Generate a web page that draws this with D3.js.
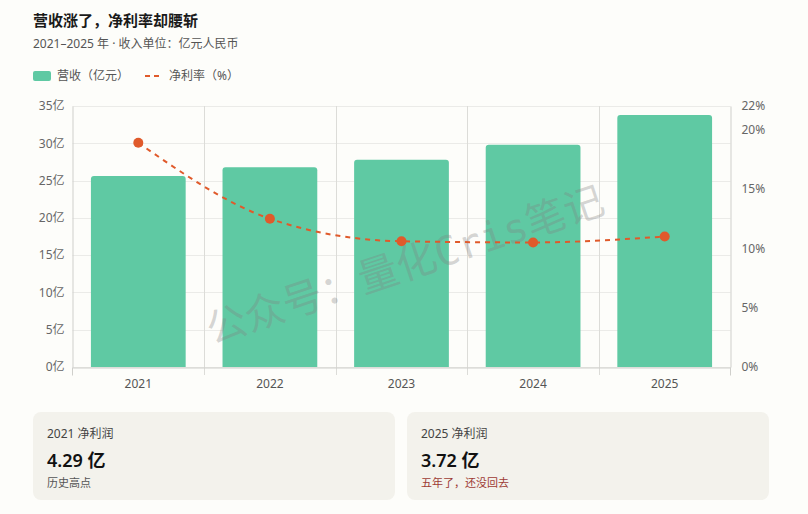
<!DOCTYPE html>
<html>
<head>
<meta charset="utf-8">
<script src="https://cdn.jsdelivr.net/npm/d3@7"></script>
<style>
  body { margin: 0; background: #fdfdfa; font-family: "Noto Sans", "Noto Sans CJK SC", sans-serif; }
  svg { display: block; }
</style>
</head>
<body>
<script>
"use strict";

var years = ["2021", "2022", "2023", "2024", "2025"];
var revenue = [25.6, 26.8, 27.8, 29.8, 33.8];       // 亿元
var netMargin = [18.9, 12.5, 10.6, 10.5, 11.0];     // %
var leftTicks = [0, 5, 10, 15, 20, 25, 30, 35];
var rightTicks = [0, 5, 10, 15, 20, 22];
var cardTitles = ["2021 净利润", "2025 净利润"];
var cardValues = ["4.29 亿", "3.72 亿"];
var cardNotes = ["历史高点", "五年了，还没回去"];

var W = 808, H = 514;
var green = "#5fc9a3", red = "#e05a2b";
var font = "Noto Sans, Noto Sans CJK SC, sans-serif";

var svg = d3.select("body").append("svg")
	.attr("width", W)
	.attr("height", H);

svg.append("rect").attr("width", W).attr("height", H).attr("fill", "#fdfdfa");

// title
svg.append("text")
	.attr("x", 33).attr("y", 26)
	.attr("font-size", 15).attr("font-weight", "bold").attr("fill", "#1a1a1a")
	.text("营收涨了，净利率却腰斩");

svg.append("text")
	.attr("x", 33).attr("y", 48)
	.attr("font-size", 12).attr("fill", "#555")
	.text("2021–2025 年 · 收入单位：亿元人民币");

// legend
var legend = svg.append("g").attr("font-size", 12).attr("fill", "#555");
legend.append("rect")
	.attr("x", 33).attr("y", 71).attr("width", 18).attr("height", 10)
	.attr("rx", 2).attr("fill", green);
legend.append("text").attr("x", 57).attr("y", 80).text("营收（亿元）");
legend.append("line")
	.attr("x1", 145).attr("x2", 163).attr("y1", 76).attr("y2", 76)
	.attr("stroke", red).attr("stroke-width", 2).attr("stroke-dasharray", "5,4");
legend.append("text").attr("x", 169).attr("y", 80).text("净利率（%）");

// scales
var plotLeft = 72.5, plotRight = 730.5, plotTop = 106, plotBottom = 367;

var x = d3.scaleBand()
	.domain(years)
	.range([plotLeft, plotRight])
	.paddingInner(0.28)
	.paddingOuter(0.14);

var xBand = d3.scaleBand().domain(years).range([plotLeft, plotRight]);

var y = d3.scaleLinear().domain([0, 35]).range([plotBottom, plotTop]);
var y2 = d3.scaleLinear().domain([0, 22]).range([plotBottom, plotTop]);

// grid
var grid = svg.append("g");
grid.selectAll(".hg")
	.data(leftTicks)
	.enter().append("line")
	.attr("x1", plotLeft).attr("x2", plotRight)
	.attr("y1", function(d) { return Math.round(y(d)) + 0.5; })
	.attr("y2", function(d) { return Math.round(y(d)) + 0.5; })
	.attr("stroke", "#ebebe8");

var bounds = years.map(function(d) { return xBand(d); });
grid.selectAll(".vg")
	.data(bounds.slice(1))
	.enter().append("line")
	.attr("x1", function(d) { return Math.round(d) + 0.5; })
	.attr("x2", function(d) { return Math.round(d) + 0.5; })
	.attr("y1", plotTop).attr("y2", plotBottom + 8)
	.attr("stroke", "#dcdcd8");

// bars
svg.append("g").selectAll("path")
	.data(revenue)
	.enter().append("path")
	.attr("fill", green)
	.attr("d", function(d, i) {
		var x0 = x(years[i]), w = x.bandwidth(), y0 = y(d), r = 3;
		return "M" + x0 + "," + plotBottom +
			"V" + (y0 + r) +
			"Q" + x0 + "," + y0 + " " + (x0 + r) + "," + y0 +
			"H" + (x0 + w - r) +
			"Q" + (x0 + w) + "," + y0 + " " + (x0 + w) + "," + (y0 + r) +
			"V" + plotBottom + "Z";
	});

// axes
var leftAxis = svg.append("g")
	.attr("transform", "translate(" + plotLeft + ",0)")
	.call(d3.axisLeft(y).tickValues(leftTicks).tickSize(0).tickPadding(8)
		.tickFormat(function(d) { return d + "亿"; }));
leftAxis.select(".domain").attr("stroke", "#cfcfcb");
leftAxis.selectAll("text").attr("font-size", 12).attr("fill", "#666")
	.attr("font-family", font);

var rightAxis = svg.append("g")
	.attr("transform", "translate(" + plotRight + ",0)")
	.call(d3.axisRight(y2).tickValues(rightTicks).tickSize(0).tickPadding(11)
		.tickFormat(function(d) { return d + "%"; }));
rightAxis.select(".domain").attr("stroke", "#cfcfcb");
rightAxis.selectAll("text").attr("font-size", 12).attr("fill", "#666")
	.attr("font-family", font);

var bottomAxis = svg.append("g")
	.attr("transform", "translate(0," + (plotBottom + 0.5) + ")")
	.call(d3.axisBottom(xBand).tickSize(0).tickPadding(12));
bottomAxis.select(".domain").attr("stroke", "#cfcfcb");
bottomAxis.selectAll("text").attr("font-size", 12).attr("fill", "#555")
	.attr("font-family", font);
bottomAxis.selectAll(".edge")
	.data([plotLeft, plotRight])
	.enter().append("line")
	.attr("x1", function(d) { return d; }).attr("x2", function(d) { return d; })
	.attr("y1", 0).attr("y2", 8)
	.attr("stroke", "#cfcfcb");

// watermark
svg.append("text")
	.attr("transform", "translate(406,268) rotate(-18.5)")
	.attr("text-anchor", "middle")
	.attr("dominant-baseline", "middle")
	.attr("font-size", 40)
	.attr("font-family", "DejaVu Sans Mono, Noto Sans CJK SC, monospace")
	.attr("fill", "#808080")
	.attr("fill-opacity", 0.32)
	.text("公众号：量化Cris笔记");

// net margin line
var cx = function(d, i) { return x(years[i]) + x.bandwidth() / 2; };
var line = d3.line()
	.x(cx)
	.y(function(d) { return y2(d); })
	.curve(d3.curveMonotoneX);

svg.append("path")
	.datum(netMargin)
	.attr("d", line)
	.attr("fill", "none")
	.attr("stroke", red)
	.attr("stroke-width", 2)
	.attr("stroke-dasharray", "5,5");

svg.append("g").selectAll("circle")
	.data(netMargin)
	.enter().append("circle")
	.attr("cx", cx)
	.attr("cy", function(d) { return y2(d); })
	.attr("r", 5)
	.attr("fill", red);

// cards
var cardX = [33, 407];
var cards = svg.append("g").selectAll("g")
	.data(cardTitles)
	.enter().append("g")
	.attr("transform", function(d, i) { return "translate(" + cardX[i] + ",412)"; });

cards.append("rect")
	.attr("width", 362).attr("height", 88).attr("rx", 8)
	.attr("fill", "#f3f2ec");
cards.append("text")
	.attr("x", 14).attr("y", 26)
	.attr("font-size", 12).attr("fill", "#444")
	.text(function(d) { return d; });
cards.append("text")
	.attr("x", 14).attr("y", 55)
	.attr("font-size", 18).attr("font-weight", 600).attr("fill", "#111")
	.text(function(d, i) { return cardValues[i]; });
cards.append("text")
	.attr("x", 14).attr("y", 75)
	.attr("font-size", 11)
	.attr("fill", function(d, i) { return i === 1 ? "#9e3b34" : "#555"; })
	.text(function(d, i) { return cardNotes[i]; });
</script>
</body>
</html>
